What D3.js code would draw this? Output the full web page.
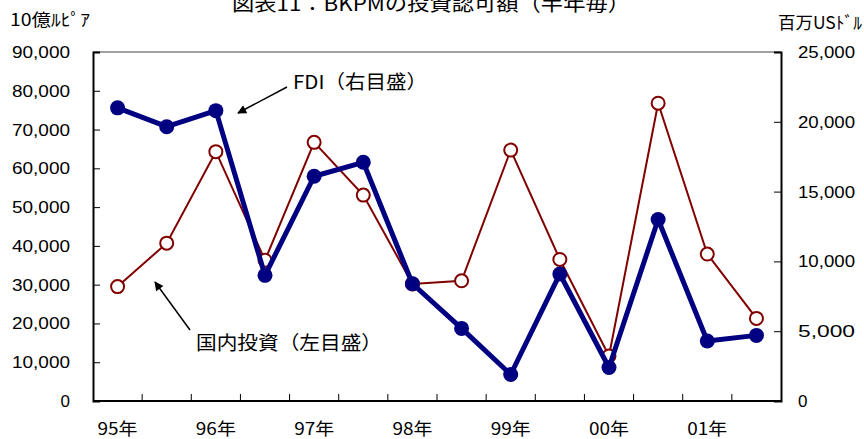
<!DOCTYPE html>
<html>
<head>
<meta charset="utf-8">
<script src="https://cdn.jsdelivr.net/npm/d3@7/dist/d3.min.js"></script>
<style>
  html, body { margin: 0; padding: 0; background: #fff; }
  svg { display: block; }
  text { font-family: "Liberation Sans", Arial, "Noto Sans CJK JP", sans-serif; fill: #000; }
  .jp { font-family: "Noto Sans CJK JP", "Liberation Sans", sans-serif; }
</style>
</head>
<body>
<svg id="chart" width="864" height="439"></svg>
<script>
// Half-year periods, 1995 H1 to 2001 H2
const periods = ["95H1","95H2","96H1","96H2","97H1","97H2","98H1","98H2","99H1","99H2","00H1","00H2","01H1","01H2"];
// Year labels shown under the first half of each year
const yearLabels = ["95年","96年","97年","98年","99年","00年","01年"];
// Domestic investment approvals (10億ルピア, left axis)
const domestic = [29500, 40700, 64300, 36300, 66700, 53100, 30200, 31000, 64700, 36500, 11600, 76800, 37900, 21300];
// FDI approvals (百万USドル, right axis)
const fdi = [21000, 19650, 20800, 9000, 16100, 17100, 8400, 5200, 1900, 9100, 2400, 13000, 4300, 4700];
// Axis ticks
const leftTicks = [0, 10000, 20000, 30000, 40000, 50000, 60000, 70000, 80000, 90000];
const rightTicks = [0, 5000, 10000, 15000, 20000, 25000];

const svg = d3.select("#chart");
const L = 93, R = 781, T = 52, B = 401;

const x = d3.scaleBand().domain(periods).range([L, R]).paddingInner(0).paddingOuter(0);
const cx = d => x(d) + x.bandwidth() / 2;
const yL = d3.scaleLinear().domain([0, 90000]).range([B, T]);
const yR = d3.scaleLinear().domain([0, 25000]).range([B, T]);

const fmt = v => v === 0 ? "0" : d3.format(",")(v);

// Top frame line
svg.append("line").attr("x1", L).attr("x2", R).attr("y1", T).attr("y2", T)
  .attr("stroke", "#808080").attr("stroke-width", 1.5);

// Left axis
const gL = svg.append("g").attr("transform", `translate(${L},0)`)
  .call(d3.axisLeft(yL).tickValues(leftTicks).tickSize(-7).tickPadding(23).tickFormat(fmt));
gL.select(".domain").attr("stroke", "#000").attr("stroke-width", 2);
gL.selectAll(".tick line").attr("stroke", "#000").attr("stroke-width", 1);
gL.selectAll(".tick text").attr("font-size", 17).attr("fill", "#000")
  .attr("font-family", "Liberation Sans, Arial, sans-serif")
  .each(function(d) { if (d !== 0) d3.select(this).attr("textLength", 58).attr("lengthAdjust", "spacingAndGlyphs"); });

// Right axis
const gR = svg.append("g").attr("transform", `translate(${R},0)`)
  .call(d3.axisRight(yR).tickValues(rightTicks).tickSize(-7).tickPadding(17).tickFormat(fmt));
gR.select(".domain").attr("stroke", "#000").attr("stroke-width", 2);
gR.selectAll(".tick line").attr("stroke", "#000").attr("stroke-width", 1);
gR.selectAll(".tick text").attr("font-size", 17).attr("fill", "#000")
  .attr("font-family", "Liberation Sans, Arial, sans-serif")
  .each(function(d) { if (d !== 0) d3.select(this).attr("textLength", 57).attr("lengthAdjust", "spacingAndGlyphs"); });

// Bottom axis: ticks at band boundaries, pointing inward
const bounds = periods.map(p => x(p)).concat([R]);
svg.append("line").attr("x1", L).attr("x2", R).attr("y1", B).attr("y2", B)
  .attr("stroke", "#000").attr("stroke-width", 2);
svg.append("g").selectAll("line").data(bounds.slice(1, -1)).join("line")
  .attr("x1", d => d).attr("x2", d => d).attr("y1", B).attr("y2", B - 7)
  .attr("stroke", "#000").attr("stroke-width", 1);

// Year labels
svg.append("g").selectAll("text").data(yearLabels).join("text")
  .attr("class", "jp")
  .attr("x", (d, i) => cx(periods[i * 2]))
  .attr("y", 435)
  .attr("text-anchor", "middle")
  .attr("font-size", 17)
  .attr("textLength", 40).attr("lengthAdjust", "spacingAndGlyphs")
  .text(d => d);

// Domestic investment line (left axis)
const lineL = d3.line().x((d, i) => cx(periods[i])).y(d => yL(d));
svg.append("path").datum(domestic).attr("d", lineL)
  .attr("fill", "none").attr("stroke", "#800000").attr("stroke-width", 2);
svg.append("g").selectAll("circle").data(domestic).join("circle")
  .attr("cx", (d, i) => cx(periods[i])).attr("cy", d => yL(d)).attr("r", 6.5)
  .attr("fill", "#fff").attr("stroke", "#800000").attr("stroke-width", 2);

// FDI line (right axis)
const lineR = d3.line().x((d, i) => cx(periods[i])).y(d => yR(d));
svg.append("path").datum(fdi).attr("d", lineR)
  .attr("fill", "none").attr("stroke", "#000080").attr("stroke-width", 5)
  .attr("stroke-linejoin", "round");
svg.append("g").selectAll("circle").data(fdi).join("circle")
  .attr("cx", (d, i) => cx(periods[i])).attr("cy", d => yR(d)).attr("r", 7.5)
  .attr("fill", "#000080");

// Title (runs up against the top edge)
svg.append("text").attr("class", "jp")
  .attr("x", 431).attr("y", 11).attr("text-anchor", "middle")
  .attr("font-size", 20).attr("textLength", 398).attr("lengthAdjust", "spacingAndGlyphs")
  .text("図表11：BKPMの投資認可額（半年毎）");

// Axis unit labels
svg.append("text").attr("class", "jp").attr("x", 10).attr("y", 26)
  .attr("font-size", 17).attr("textLength", 80).attr("lengthAdjust", "spacingAndGlyphs")
  .text("10億ﾙﾋﾟｱ");
svg.append("text").attr("class", "jp").attr("x", 778).attr("y", 29)
  .attr("font-size", 17).attr("textLength", 84).attr("lengthAdjust", "spacingAndGlyphs")
  .text("百万USﾄﾞﾙ");

// Arrow marker
svg.append("defs").append("marker")
  .attr("id", "arrow").attr("viewBox", "0 0 10 10").attr("refX", 9).attr("refY", 5)
  .attr("markerWidth", 12).attr("markerHeight", 9).attr("markerUnits", "userSpaceOnUse")
  .attr("orient", "auto")
  .append("path").attr("d", "M0,0 L10,5 L0,10 z").attr("fill", "#000");

// Series annotations
svg.append("text").attr("class", "jp").attr("x", 293).attr("y", 89)
  .attr("font-size", 19).attr("textLength", 134).attr("lengthAdjust", "spacingAndGlyphs")
  .text("FDI（右目盛）");
svg.append("line").attr("x1", 287).attr("y1", 87).attr("x2", 238).attr("y2", 113)
  .attr("stroke", "#000").attr("stroke-width", 1.5).attr("marker-end", "url(#arrow)");

svg.append("text").attr("class", "jp").attr("x", 196).attr("y", 350)
  .attr("font-size", 19).attr("textLength", 186).attr("lengthAdjust", "spacingAndGlyphs")
  .text("国内投資（左目盛）");
svg.append("line").attr("x1", 190).attr("y1", 330).attr("x2", 155).attr("y2", 282)
  .attr("stroke", "#000").attr("stroke-width", 1.5).attr("marker-end", "url(#arrow)");
</script>
</body>
</html>
